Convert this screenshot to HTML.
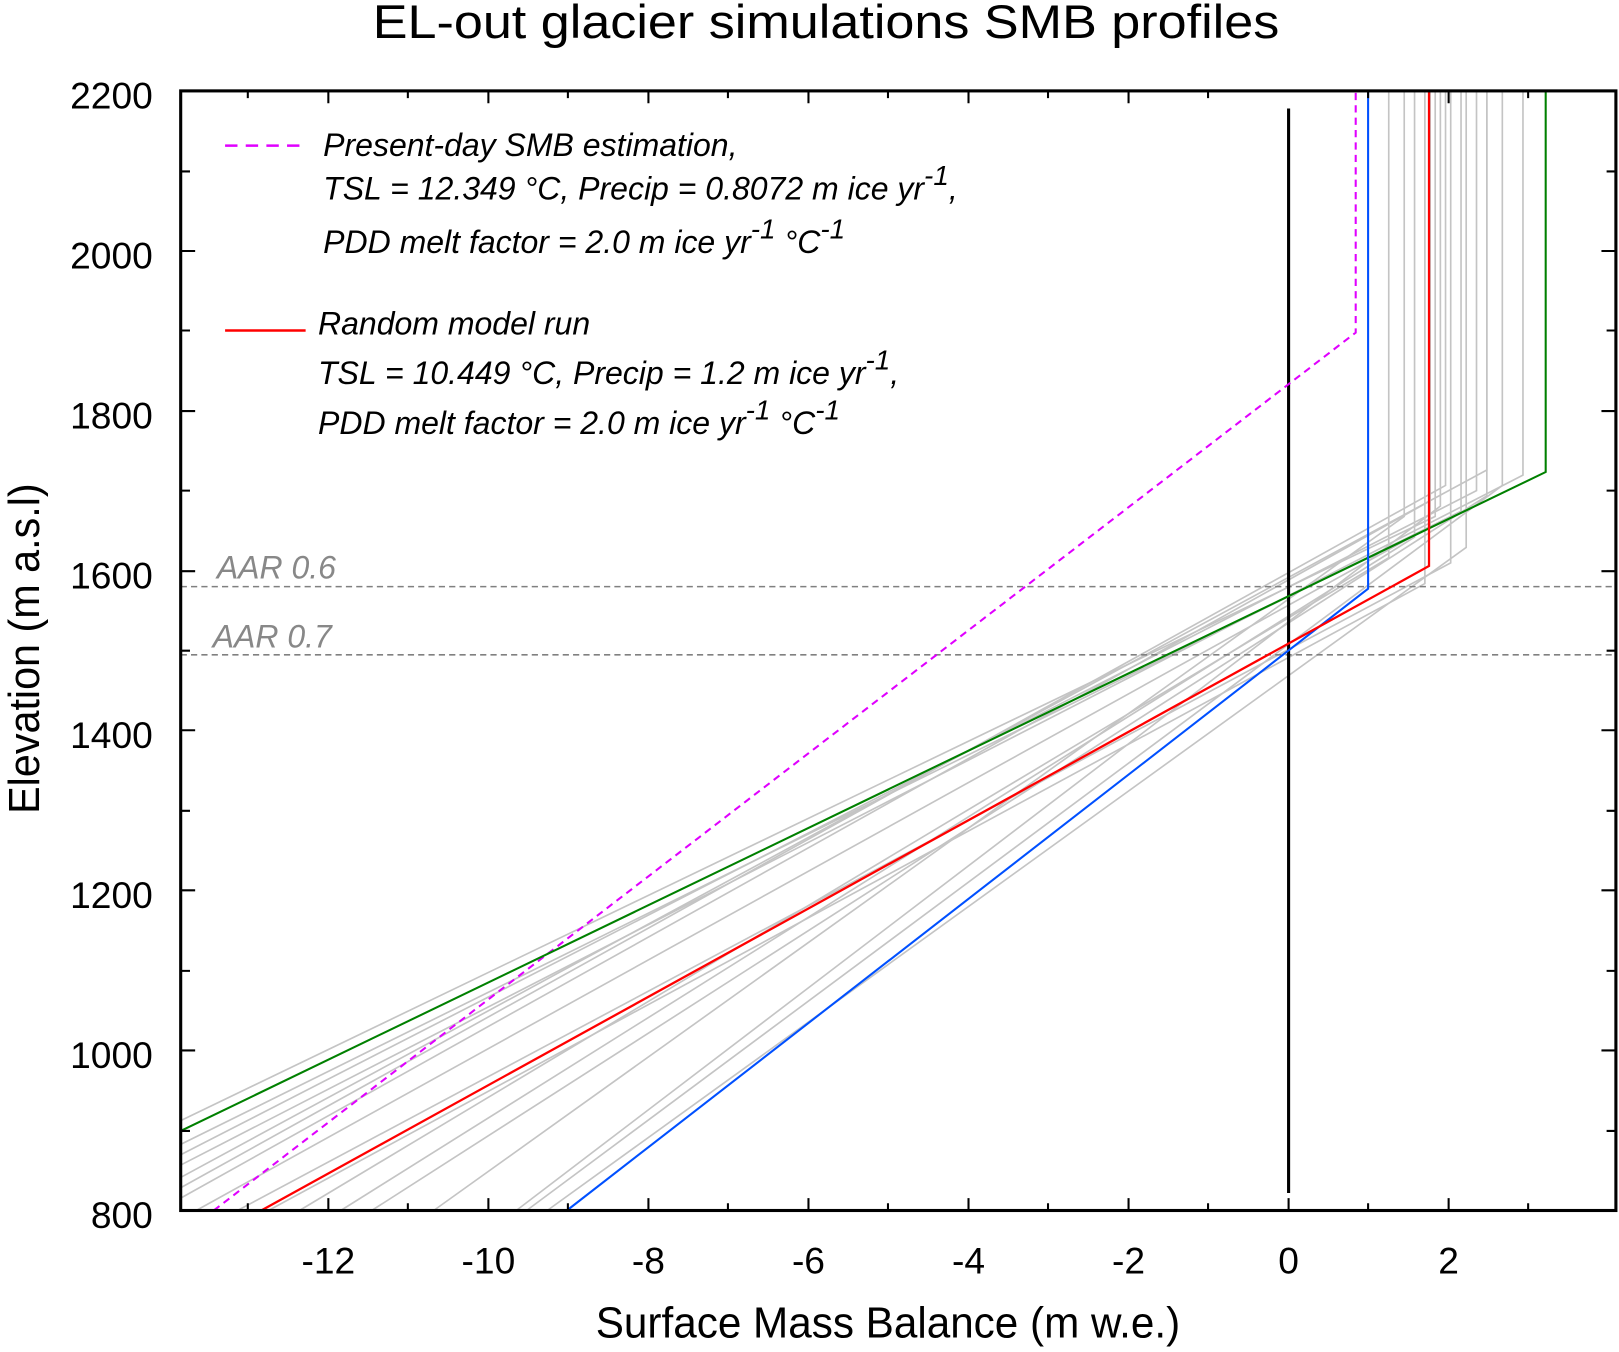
<!DOCTYPE html>
<html><head><style>body{margin:0;background:#fff}svg{display:block}</style></head><body>
<svg width="1619" height="1352" viewBox="0 0 1568 1309" preserveAspectRatio="none" xmlns="http://www.w3.org/2000/svg" font-family="Liberation Sans, sans-serif">
<rect width="1568" height="1309" fill="#fff"/>
<text x="800" y="37" font-size="46" text-anchor="middle" textLength="878" lengthAdjust="spacingAndGlyphs">EL-out glacier simulations SMB profiles</text>
<g stroke="#c4c4c4" stroke-width="1.6" fill="none">
<polyline points="175,1160 1385,485 1385,88"/>
<polyline points="175,1150 1400,470 1400,88"/>
<polyline points="175,1140 1440,455 1440,88"/>
<polyline points="175,1128 1475,460 1475,88"/>
<polyline points="175,1118 1430,475 1430,88"/>
<polyline points="175,1108 1415,495 1415,88"/>
<polyline points="190,1172 1385,510 1385,88"/>
<polyline points="230,1172 1405,545 1405,88"/>
<polyline points="290,1172 1345,540 1345,88"/>
<polyline points="330,1172 1370,520 1370,88"/>
<polyline points="360,1172 1440,480 1440,88"/>
<polyline points="420,1172 1360,500 1360,88"/>
<polyline points="500,1172 1395,490 1395,88"/>
<polyline points="510,1172 1455,470 1455,88"/>
<polyline points="530,1172 1420,530 1420,88"/>
<polyline points="175,1085 1390,500 1390,88"/>
<polyline points="260,1172 1380,565 1380,88"/>
</g>
<g stroke="#808080" stroke-width="1.5" stroke-dasharray="6,4">
<line x1="175" y1="568" x2="1565" y2="568"/><line x1="175" y1="634" x2="1565" y2="634"/>
</g>
<g font-size="31" fill="#888" font-style="italic"><text x="210" y="560">AAR 0.6</text><text x="206" y="627">AAR 0.7</text></g>
<line x1="1248" y1="105" x2="1248" y2="1155" stroke="#000" stroke-width="3"/>
<polyline points="207,1172 1313,322 1313,88" stroke="#e000ff" stroke-width="2" fill="none" stroke-dasharray="7,5"/>
<polyline points="175,1095 1497,457 1497,88" stroke="#008000" stroke-width="2" fill="none"/>
<polyline points="549,1172 1325,570 1325,88" stroke="#0050ff" stroke-width="2" fill="none"/>
<polyline points="253,1172 1384,548 1384,88" stroke="#ff0000" stroke-width="2.2" fill="none"/>
<rect x="175" y="88" width="1390" height="1084" fill="none" stroke="#000" stroke-width="3"/>
<g stroke="#000" stroke-width="2">
<path d="M175,1172h14M175,1017h14M175,862h14M175,707h14M175,553h14M175,398h14M175,243h14M175,88h14M1565,1017h-14M1565,862h-14M1565,707h-14M1565,553h-14M1565,398h-14M1565,243h-14"/>
<path d="M175,1095h9M175,940h9M175,785h9M175,630h9M175,475h9M175,320h9M175,166h9M1565,1095h-9M1565,940h-9M1565,785h-9M1565,630h-9M1565,475h-9M1565,320h-9M1565,166h-9"/>
<path d="M318,1172v-12M473,1172v-12M628,1172v-12M783,1172v-12M938,1172v-12M1093,1172v-12M1248,1172v-12M1403,1172v-12M318,88v12M473,88v12M628,88v12M783,88v12M938,88v12M1093,88v12M1403,88v12"/>
<path d="M240,1172v-7M395,1172v-7M550,1172v-7M705,1172v-7M860,1172v-7M1015,1172v-7M1170,1172v-7M1325,1172v-7M1480,1172v-7M240,88v7M395,88v7M550,88v7M705,88v7M860,88v7M1015,88v7M1170,88v7M1325,88v7M1480,88v7"/>
</g>
<g font-size="36" text-anchor="end">
<text x="148" y="105">2200</text><text x="148" y="260">2000</text><text x="148" y="415">1800</text><text x="148" y="570">1600</text><text x="148" y="724">1400</text><text x="148" y="879">1200</text><text x="148" y="1034">1000</text><text x="148" y="1189">800</text>
</g>
<g font-size="36" text-anchor="middle">
<text x="318" y="1233">-12</text><text x="473" y="1233">-10</text><text x="628" y="1233">-8</text><text x="783" y="1233">-6</text><text x="938" y="1233">-4</text><text x="1093" y="1233">-2</text><text x="1248" y="1233">0</text><text x="1403" y="1233">2</text>
</g>
<text x="860" y="1295" font-size="42" text-anchor="middle" textLength="566" lengthAdjust="spacingAndGlyphs">Surface Mass Balance (m w.e.)</text>
<text transform="translate(38,628) rotate(-90)" font-size="42" text-anchor="middle" textLength="320" lengthAdjust="spacingAndGlyphs">Elevation (m a.s.l)</text>
<line x1="218" y1="141" x2="296" y2="141" stroke="#e000ff" stroke-width="2.5" stroke-dasharray="12,8"/>
<line x1="218" y1="320" x2="296" y2="320" stroke="#ff0000" stroke-width="2.5"/>
<g font-size="31" font-style="italic">
<text x="313" y="151">Present-day SMB estimation,</text>
<text x="313" y="193">TSL = 12.349 °C, Precip = 0.8072 m ice yr<tspan dy="-14" font-size="27">-1</tspan><tspan dy="14">,</tspan></text>
<text x="313" y="245">PDD melt factor = 2.0 m ice yr<tspan dy="-14" font-size="27">-1</tspan><tspan dy="14"> °C</tspan><tspan dy="-14" font-size="27">-1</tspan></text>
<text x="308" y="324">Random model run</text>
<text x="308" y="372">TSL = 10.449 °C, Precip = 1.2 m ice yr<tspan dy="-14" font-size="27">-1</tspan><tspan dy="14">,</tspan></text>
<text x="308" y="420">PDD melt factor = 2.0 m ice yr<tspan dy="-14" font-size="27">-1</tspan><tspan dy="14"> °C</tspan><tspan dy="-14" font-size="27">-1</tspan></text>
</g>
</svg>
</body></html>
